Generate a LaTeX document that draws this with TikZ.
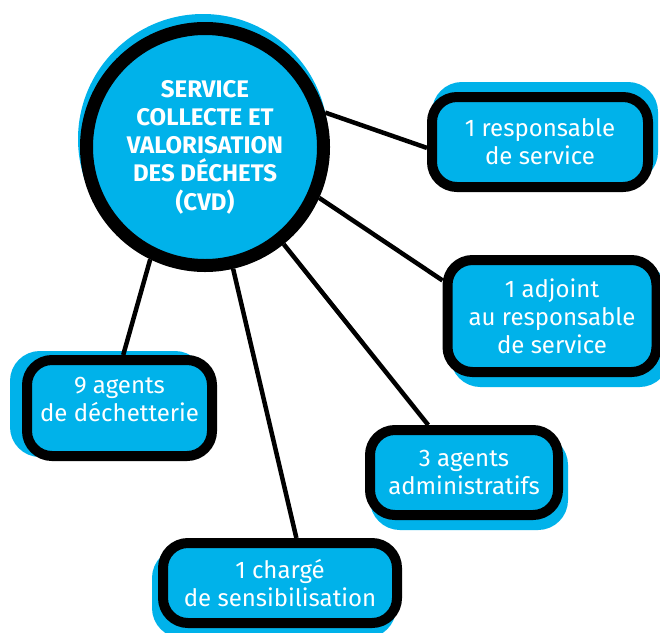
\documentclass[tikz,border=0pt]{standalone}
\usepackage{fontspec}
\setmainfont{Fira Sans}
\definecolor{cvdblue}{RGB}{0,178,234}
\begin{document}
\begin{tikzpicture}[x=1pt,y=-1pt,
    bubble/.style={circle, draw=black, fill=cvdblue, line width=13pt,
        minimum size=237pt, inner sep=0pt, text=white, align=center,
        font=\fontsize{24}{28.3}\selectfont\bfseries},
    post/.style={draw=black, fill=cvdblue, line width=10pt,
        rounded corners=25pt, inner sep=0pt, text=white, align=center,
        font=\fontsize{24}{28}\selectfont},
    blueshadow/.style 2 args={preaction={draw=cvdblue, fill=cvdblue,
        transform canvas={xshift=#1, yshift=#2}}},
    link/.style={line width=4.5pt, black}]

    \useasboundingbox (0,0) rectangle (660,632);

    % Centre
    \node[bubble, blueshadow={-2pt}{8pt}] (cvd) at (205,147)
        {SERVICE\\COLLECTE ET\\VALORISATION\\DES DÉCHETS\\(CVD)};

    % Staff
    \node[post, minimum width=216pt, minimum height=90pt,
        blueshadow={5pt}{10pt}] (resp) at (540,142)
        {1 responsable\\de service};
    \node[post, minimum width=209pt, minimum height=112pt,
        blueshadow={8pt}{-10pt}] (adjoint) at (552,316)
        {1 adjoint\\au responsable\\de service};
    \node[post, minimum width=185pt, minimum height=96pt, text depth=18pt,
        blueshadow={-12pt}{4pt}] (dechet) at (119.5,408)
        {9 agents\\de déchetterie};
    \node[post, minimum width=234pt, minimum height=80pt,
        blueshadow={-6pt}{-10pt}] (charge) at (280,583)
        {1 chargé\\de sensibilisation};
    \node[post, minimum width=188pt, minimum height=85pt,
        blueshadow={5pt}{-10pt}] (admin) at (464,472.5)
        {3 agents\\administratifs};

    % Links
    \foreach \ang/\post/\side in {16/resp/183, -24/adjoint/162,
        -51/admin/127, -77/charge/70, -116/dechet/86} {
        \draw[link] (cvd.\ang) -- (\post.\side);
    }

\end{tikzpicture}
\end{document}
